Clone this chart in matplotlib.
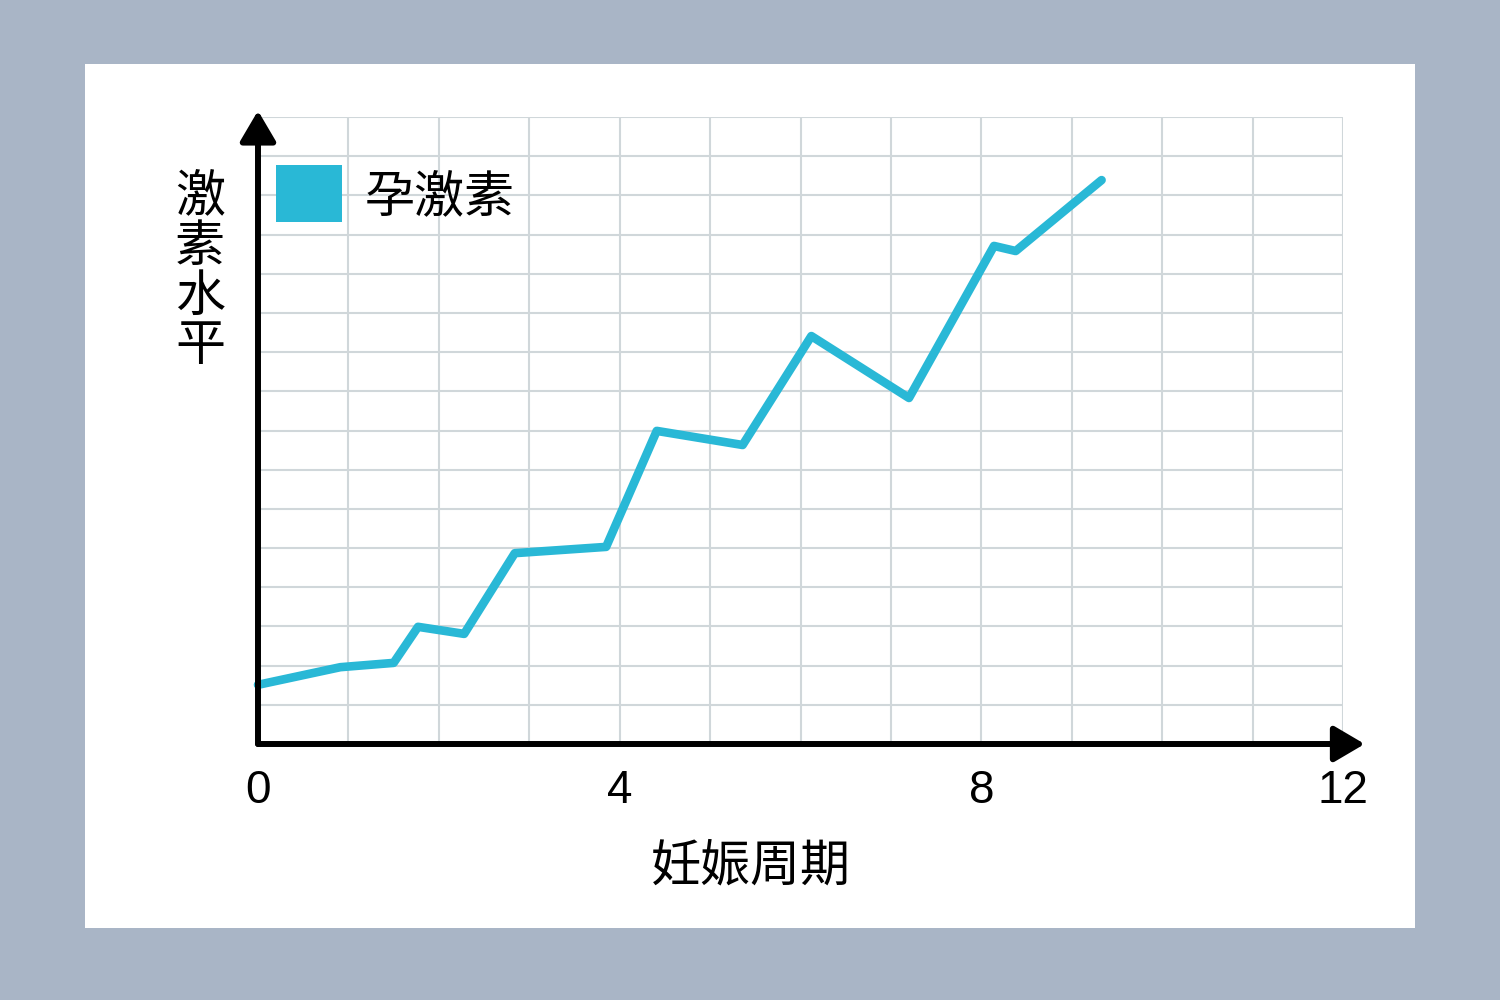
import matplotlib
matplotlib.use("Agg")
import matplotlib.pyplot as plt
from matplotlib.patches import Rectangle

plt.rcParams['font.family'] = ['Liberation Sans', 'Noto Sans CJK SC']

# hormone curve (weeks, relative level)
weeks = [0, 0.91, 1.50, 1.77, 2.28, 2.84, 3.85, 4.41, 5.36, 6.12, 7.20, 8.14, 8.38, 9.33]
level = [1.51, 1.96, 2.07, 2.99, 2.81, 4.87, 5.03, 7.99, 7.63, 10.41, 8.83, 12.71, 12.58, 14.39]

series_name = "孕激素"
x_label = "妊娠周期"
y_label = "激素水平"
x_ticks = [0, 4, 8, 12]
x_tick_labels = ["0", "4", "8", "12"]

line_color = "#29B8D6"
grid_color = "#D0D7DA"

fig = plt.figure(figsize=(15, 10), dpi=100, facecolor="#A9B5C6")
# white card behind the chart
fig.patches.append(Rectangle((85 / 1500, 1 - 928 / 1000), 1330 / 1500, 864 / 1000,
                             transform=fig.transFigure, facecolor="white",
                             edgecolor="none", zorder=-10))

ax = fig.add_axes([258 / 1500, 1 - 744 / 1000, 1085 / 1500, 627 / 1000])
ax.set_facecolor("white")
ax.set_xlim(0, 12)
ax.set_ylim(0, 16)

ax.set_xticks(x_ticks)
ax.set_xticklabels(x_tick_labels, fontsize=33)
ax.set_xticks(range(13), minor=True)
ax.set_yticks(range(17))
ax.set_yticklabels([])
ax.tick_params(which="both", length=0)
ax.tick_params(axis="x", pad=18)
ax.grid(True, which="both", color=grid_color, linewidth=1.5, zorder=0)
ax.set_axisbelow(True)
for s in ax.spines.values():
    s.set_visible(False)

ax.plot(weeks, level, color=line_color, linewidth=6.2,
        solid_joinstyle="round", solid_capstyle="round", zorder=3, clip_on=False)

# axes with arrow heads
arrow = dict(arrowstyle="-|>,head_length=0.85,head_width=0.5", lw=4.3,
             color="black", shrinkA=0, shrinkB=0, mutation_scale=22)
ax.annotate("", xy=(1.020, 0), xytext=(0, 0), xycoords="axes fraction",
            textcoords="axes fraction", arrowprops=arrow, zorder=5)
ax.annotate("", xy=(0, 1.010), xytext=(0, 0), xycoords="axes fraction",
            textcoords="axes fraction", arrowprops=arrow, zorder=5)

# legend drawn by hand
ax.add_patch(Rectangle((0.0166, 0.8325), 0.0608, 0.0909, transform=ax.transAxes,
                       facecolor=line_color, edgecolor="none", zorder=4, clip_on=False))
ax.text(0.0986, 0.869, series_name, transform=ax.transAxes, fontsize=36,
        fontweight="light", ha="left", va="center", zorder=4)

ax.text(0.4544, -0.196, x_label, transform=ax.transAxes, fontsize=36,
        fontweight="light", ha="center", va="center")
ax.text(-0.0535, 0.752, "\n".join(y_label), transform=ax.transAxes, fontsize=36,
        fontweight="light", ha="center", va="center", linespacing=1.1)

fig.savefig("out.png", dpi=100, facecolor=fig.get_facecolor())
